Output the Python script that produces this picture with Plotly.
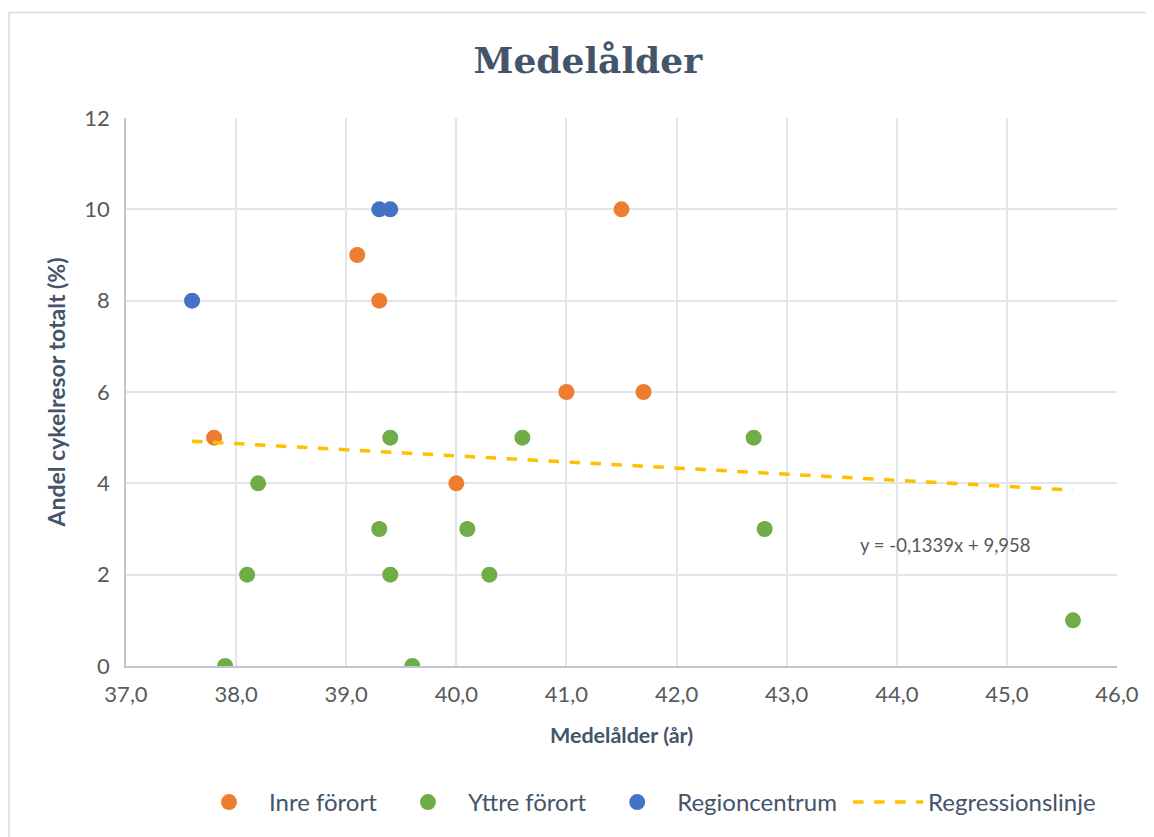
import plotly.graph_objects as go

# Data
inre_x = [37.8, 39.1, 39.3, 40.0, 41.0, 41.5, 41.7]
inre_y = [5, 9, 8, 4, 6, 10, 6]
yttre_x = [37.9, 38.1, 38.2, 39.3, 39.4, 39.4, 39.6, 40.1, 40.3, 40.6, 42.7, 42.8, 45.6]
yttre_y = [0, 2, 4, 3, 5, 2, 0, 3, 2, 5, 5, 3, 1]
region_x = [37.6, 39.3, 39.4]
region_y = [8, 10, 10]
reg_slope = -0.1339
reg_intercept = 9.958
reg_x = [37.6, 45.6]
reg_y = [reg_slope * v + reg_intercept for v in reg_x]

x_ticks = [37, 38, 39, 40, 41, 42, 43, 44, 45, 46]
y_ticks = [0, 2, 4, 6, 8, 10, 12]

FONT = "Lato"
TXT = "#44546A"
TICK = "#595959"
GRID = "#E1E5EA"
PAD = "\u00a0"

fig = go.Figure()
fig.add_trace(go.Scatter(x=inre_x, y=inre_y, mode="markers", name="Inre förort" + PAD,
                         marker=dict(color="#ED7D31", size=16, line=dict(width=0))))
fig.add_trace(go.Scatter(x=yttre_x, y=yttre_y, mode="markers", name="Yttre förort" + PAD,
                         marker=dict(color="#70AD47", size=16, line=dict(width=0))))
fig.add_trace(go.Scatter(x=region_x, y=region_y, mode="markers", name="Regioncentrum" + PAD,
                         marker=dict(color="#4472C4", size=16, line=dict(width=0))))
fig.add_trace(go.Scatter(x=reg_x, y=reg_y, mode="lines", name="Regressionslinje",
                         line=dict(color="#FFC000", width=3.5, dash="dash")))

fig.add_annotation(x=44.44, y=2.65, xref="x", yref="y", showarrow=False,
                   text="y = -0,1339x + 9,958",
                   font=dict(family=FONT, size=18.5, color=TICK))

# chart border
fig.add_shape(type="rect", xref="paper", yref="paper",
              x0=(9 - 126) / 991, x1=(1170 - 126) / 991,
              y0=(668 - 860) / 550, y1=(668 - 12) / 550,
              line=dict(color="#D9D9D9", width=1.5), layer="below")

fig.update_layout(
    width=1146, height=829,
    margin=dict(l=118, r=37, t=110, b=169),
    paper_bgcolor="white", plot_bgcolor="white",
    separators=", ",
    title=dict(text="<b>Medelålder</b>", x=0.506, xanchor="center", y=0.937, yanchor="middle",
               font=dict(family="DejaVu Serif", size=36, color=TXT)),
    font=dict(family=FONT, color=TXT),
    legend=dict(orientation="h", x=(189 - 126) / 991, xanchor="left",
                y=(668 - 805) / 550, yanchor="middle",
                font=dict(family=FONT, size=24, color=TXT),
                itemwidth=70,
                bgcolor="rgba(0,0,0,0)"),
    showlegend=True,
)
fig.update_xaxes(range=[37, 46], tickvals=x_ticks, tickformat=".1f",
                 showgrid=True, gridcolor=GRID, gridwidth=1.5,
                 showline=True, linecolor="#BFC6D1", linewidth=1.5,
                 zeroline=False, ticks="", ticklabelstandoff=8,
                 tickfont=dict(family=FONT, size=22, color=TICK),
                 title=dict(text="<b>Medelålder (år)</b>", standoff=22,
                            font=dict(family=FONT, size=21.5, color=TXT)))
fig.update_yaxes(range=[0, 12], tickvals=y_ticks,
                 showgrid=True, gridcolor=GRID, gridwidth=1.5,
                 showline=True, linecolor="#BFC6D1", linewidth=1.5,
                 zeroline=False, ticks="", ticklabelstandoff=10,
                 tickfont=dict(family=FONT, size=22, color=TICK),
                 title=dict(text="<b>Andel cykelresor totalt (%)</b>", standoff=12,
                            font=dict(family=FONT, size=23, color=TXT)))

fig.write_html("out.html")
